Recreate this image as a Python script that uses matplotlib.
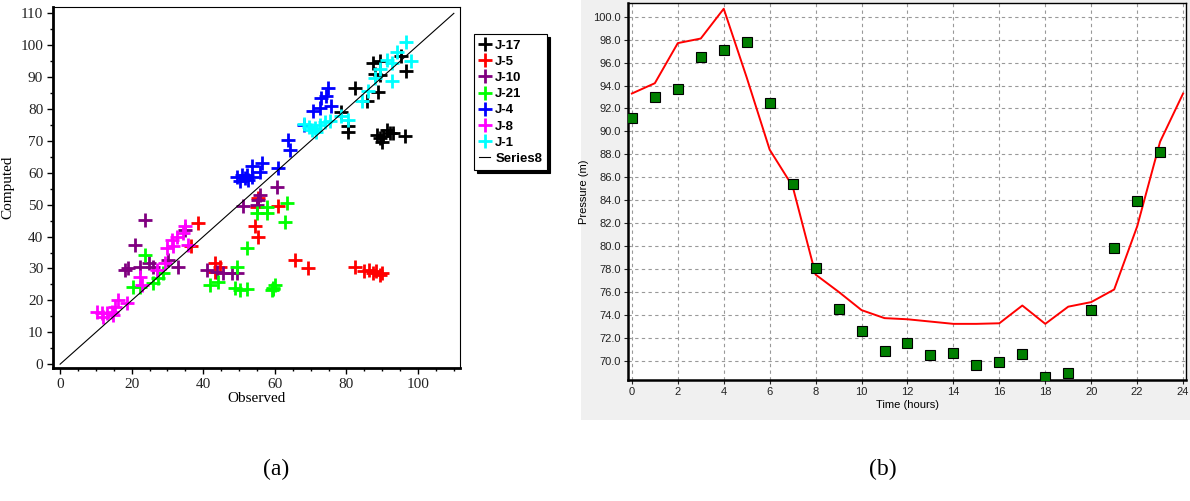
import matplotlib
matplotlib.use("Agg")
import matplotlib.pyplot as plt
from matplotlib.patches import Rectangle
from matplotlib.ticker import MultipleLocator, FormatStrFormatter

# (a) observed vs computed, one list pair per junction
j17_obs = [87.4, 89.3, 87.9, 89.3, 95.3, 96.7, 82.3, 85.6, 88.8, 78.6, 80.5, 80.5,
           88.4, 89.3, 89.8, 90.2, 91.2, 92.1, 93.0, 96.3]
j17_cmp = [94.5, 95.0, 91.1, 90.8, 96.6, 91.9, 86.6, 82.5, 85.3, 79.1, 74.8, 72.7,
           71.9, 70.8, 69.8, 71.4, 73.4, 72.5, 72.5, 71.4]
j5_obs = [38.6, 36.7, 43.3, 43.3, 44.7, 54.9, 55.3, 54.4, 55.3, 60.9, 65.6, 69.3,
          82.3, 85.0, 86.4, 87.4, 88.3, 89.3, 90.0]
j5_cmp = [44.4, 37.1, 31.6, 29.0, 30.6, 49.4, 52.0, 43.2, 39.8, 49.7, 32.7, 30.1,
          30.6, 29.1, 29.4, 28.6, 29.1, 28.1, 28.6]
j10_obs = [23.7, 21.0, 18.1, 19.1, 22.3, 24.7, 26.0, 30.2, 33.0, 34.9, 40.9, 43.7,
           45.6, 48.0, 49.3, 51.2, 54.9, 55.8, 55.3, 60.5]
j10_cmp = [45.2, 37.4, 29.5, 30.1, 30.6, 31.6, 30.6, 32.7, 30.6, 42.1, 29.5, 29.0,
           28.5, 28.5, 28.7, 49.5, 50.0, 53.1, 51.5, 55.7]
j21_obs = [20.5, 22.3, 23.7, 26.0, 27.4, 28.8, 41.9, 44.2, 49.3, 48.8, 50.2, 52.1,
           52.1, 54.9, 57.7, 57.7, 63.3, 62.8, 59.1, 59.5, 60.0, 59.6]
j21_cmp = [24.3, 24.3, 34.3, 25.3, 26.9, 28.5, 24.8, 25.9, 30.6, 23.8, 23.3, 23.5,
           36.3, 47.4, 49.4, 47.4, 50.5, 44.7, 23.3, 24.0, 24.8, 23.6]
j4_obs = [74.9, 74.4, 73.0, 75.8, 72.6, 70.7, 68.0, 63.7, 64.2, 60.9, 56.3, 55.8,
          53.5, 49.3, 50.7, 51.6, 52.5, 52.1, 53.5, 50.2]
j4_cmp = [86.6, 84.0, 83.5, 80.9, 80.4, 79.3, 75.1, 70.4, 67.3, 61.5, 63.0, 60.4,
          62.0, 58.8, 59.4, 58.3, 57.8, 59.4, 58.8, 57.3]
j8_obs = [10.2, 11.6, 13.0, 14.4, 15.3, 16.3, 14.9, 12.1, 18.6, 22.3, 22.8, 27.0,
          29.3, 29.8, 31.6, 32.6, 34.4, 34.9, 35.8, 31.2]
j8_cmp = [16.4, 15.9, 15.9, 16.4, 18.0, 20.1, 15.4, 14.9, 19.1, 27.4, 24.8, 29.5,
          31.6, 36.3, 36.9, 40.0, 41.0, 43.2, 37.4, 39.0]
j1_obs = [96.7, 94.0, 91.2, 92.6, 98.1, 89.3, 87.9, 92.6, 86.0, 84.2, 80.5, 78.6,
          68.0, 69.4, 70.3, 71.2, 72.6, 74.0, 75.4, 71.6]
j1_cmp = [101.0, 98.0, 95.5, 94.5, 95.2, 92.4, 89.8, 88.7, 85.6, 82.4, 76.7, 77.7,
          75.3, 74.4, 73.4, 73.9, 74.9, 75.8, 76.3, 72.9]

series_names = ["J-17", "J-5", "J-10", "J-21", "J-4", "J-8", "J-1"]
series_colors = ["black", "red", "purple", "#00ff00", "blue", "magenta", "cyan"]
series_data = [(j17_obs, j17_cmp), (j5_obs, j5_cmp), (j10_obs, j10_cmp),
               (j21_obs, j21_cmp), (j4_obs, j4_cmp), (j8_obs, j8_cmp),
               (j1_obs, j1_cmp)]
line_xy = [0, 110]

# (b) pressure over a day
hours = list(range(25))
computed_p = [93.3, 94.2, 97.7, 98.1, 100.7, 94.7, 88.4, 85.2, 77.5, 76.0, 74.4,
              73.7, 73.6, 73.4, 73.2, 73.2, 73.25, 74.8, 73.2, 74.7, 75.1, 76.2,
              81.7, 89.1, 93.3]
obs_hours = list(range(24))
observed_p = [91.16, 93.0, 93.7, 96.45, 97.06, 97.76, 92.47, 85.4, 78.1, 74.5,
              72.6, 70.8, 71.5, 70.5, 70.7, 69.65, 69.9, 70.6, 68.6, 68.95, 74.45,
              79.8, 83.9, 88.2]

fig = plt.figure(figsize=(11.9, 5.01), dpi=100)
fig.patches.append(Rectangle((0.488, 0.162), 0.512, 0.838, transform=fig.transFigure,
                             facecolor="#f0f0f0", edgecolor="none", zorder=-10))

serif = "Liberation Serif"
sans = "Liberation Sans"

# ---- panel (a)
ax1 = fig.add_axes([0.0445, 0.2655, 0.342, 0.7206])
for name, col, (xo, yc) in zip(series_names, series_colors, series_data):
    ax1.plot(xo, yc, linestyle="none", marker="+", markersize=10, mew=2,
             color=col, label=name)
ax1.plot(line_xy, line_xy, color="black", lw=0.8, label="Series8")
ax1.set_xlim(-2, 111.7)
ax1.set_ylim(-1.2, 112)
ax1.xaxis.set_major_locator(MultipleLocator(20))
ax1.xaxis.set_minor_locator(MultipleLocator(5))
ax1.yaxis.set_major_locator(MultipleLocator(10))
ax1.yaxis.set_minor_locator(MultipleLocator(5))
ax1.tick_params(which="major", length=4, width=1, labelsize=11, pad=3)
ax1.tick_params(which="minor", length=2.5, width=1)
for lab in ax1.get_xticklabels() + ax1.get_yticklabels():
    lab.set_fontfamily(serif)
    lab.set_color("#222222")
for s in ["left", "bottom"]:
    ax1.spines[s].set_linewidth(2)
for s in ["top", "right"]:
    ax1.spines[s].set_linewidth(0.8)
ax1.set_xlabel("Observed", fontfamily=serif, fontsize=11, labelpad=1)
ax1.set_ylabel("Computed", fontfamily=serif, fontsize=11, labelpad=4)

leg = ax1.legend(loc="upper left", bbox_to_anchor=(1.035, 0.925), frameon=True,
                 fancybox=False, shadow={"color": "black", "alpha": 1},
                 prop={"family": sans, "weight": "bold", "size": 9.5},
                 handlelength=0.8, handletextpad=0.4, labelspacing=0.3,
                 borderpad=0.4, borderaxespad=0)
leg.get_frame().set_edgecolor("black")
leg.get_frame().set_linewidth(0.8)

# ---- panel (b)
ax2 = fig.add_axes([0.5277, 0.2415, 0.469, 0.7525])
ax2.plot(hours, computed_p, color="#ff0000", lw=1.4, zorder=3)
ax2.plot(obs_hours, observed_p, linestyle="none", marker="s", markersize=7,
         markerfacecolor="#007f00", markeredgecolor="black", mew=0.8, zorder=4)
ax2.set_xlim(-0.17, 24.13)
ax2.set_ylim(68.3, 101.2)
ax2.xaxis.set_major_locator(MultipleLocator(2))
ax2.yaxis.set_major_formatter(FormatStrFormatter("%.1f"))
ax2.set_yticks([v for v in range(70, 101, 2)])
ax2.grid(True, color="#999999", linestyle=(0, (3, 3)), lw=0.8)
ax2.tick_params(length=3, labelsize=8, colors="#222222", pad=2)
for lab in ax2.get_xticklabels() + ax2.get_yticklabels():
    lab.set_fontfamily(sans)
for s in ["left", "bottom"]:
    ax2.spines[s].set_linewidth(1.8)
for s in ["top", "right"]:
    ax2.spines[s].set_linewidth(1.0)
ax2.set_xlabel("Time (hours)", fontfamily=sans, fontsize=8, labelpad=2)
ax2.set_ylabel("Pressure (m)", fontfamily=sans, fontsize=8, labelpad=3)

fig.text(0.232, 0.062, "(a)", fontfamily=serif, fontsize=17, ha="center", va="center")
fig.text(0.742, 0.062, "(b)", fontfamily=serif, fontsize=17, ha="center", va="center")

fig.savefig("out.png", dpi=100)
